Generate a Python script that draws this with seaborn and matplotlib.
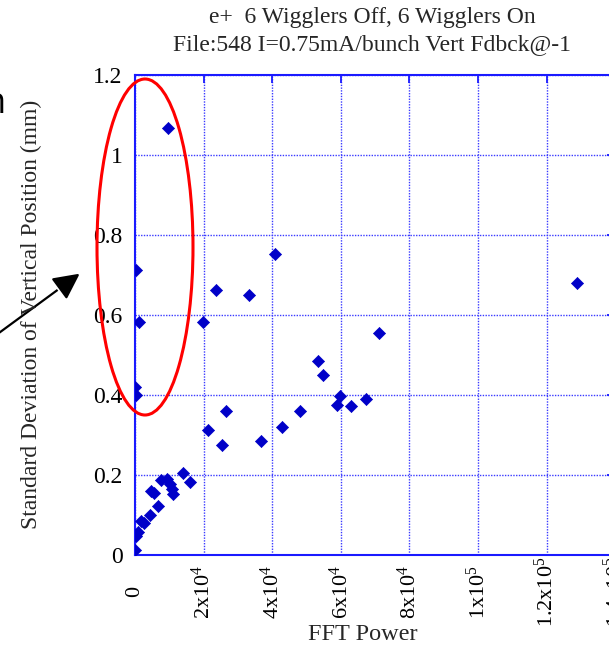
import matplotlib
matplotlib.use("Agg")
import matplotlib.pyplot as plt
import matplotlib.patheffects as pe
from matplotlib.patches import Ellipse, FancyArrowPatch
import seaborn as sns
import pandas as pd

# FFT power vs. vertical-position spread, one point per bunch
fft_power = [0, 400, 900, 1700, 2700, 4300, 6800, 4700, 5600, 7600,
             9300, 10300, 10800, 11200, 14000, 15900,
             0, 300, 1200, 300, 9600,
             19700, 21400, 23600, 25300, 26400, 33300, 36600, 40800,
             43000, 48100, 53300, 54700, 59000, 59800, 62900, 67300,
             71200, 128900]
std_dev = [0.0125, 0.048, 0.058, 0.085, 0.080, 0.100, 0.123, 0.160, 0.155, 0.188,
           0.191, 0.178, 0.165, 0.152, 0.204, 0.182,
           0.421, 0.400, 0.583, 0.713, 1.068,
           0.583, 0.3125, 0.6625, 0.275, 0.360, 0.649, 0.286, 0.7525,
           0.319, 0.360, 0.486, 0.450, 0.375, 0.398, 0.3725, 0.389,
           0.556, 0.679]

x_ticks = [0, 20000, 40000, 60000, 80000, 100000, 120000, 140000]
x_tick_labels = ["0", r"$\mathregular{2x10^4}$", r"$\mathregular{4x10^4}$",
                 r"$\mathregular{6x10^4}$", r"$\mathregular{8x10^4}$",
                 r"$\mathregular{1x10^5}$", r"$\mathregular{1.2x10^5}$",
                 r"$\mathregular{1.4x10^5}$"]
y_ticks = [0, 0.2, 0.4, 0.6, 0.8, 1.0, 1.2]
y_tick_labels = ["0", "0.2", "0.4", "0.6", "0.8", "1", "1.2"]

title_lines = ["e+  6 Wigglers Off, 6 Wigglers On",
               "File:548 I=0.75mA/bunch Vert Fdbck@-1"]

df = pd.DataFrame({"FFT Power": fft_power, "Std": std_dev})

sns.set_style("white")
plt.rcParams["font.family"] = ["Liberation Serif", "DejaVu Serif"]
plt.rcParams["mathtext.fontset"] = "custom"
plt.rcParams["mathtext.rm"] = "Liberation Serif"
plt.rcParams["mathtext.it"] = "Liberation Serif:italic"
plt.rcParams["mathtext.bf"] = "Liberation Serif:bold"

W, H = 609, 647
fig = plt.figure(figsize=(W / 100, H / 100), dpi=100)
fig.patch.set_facecolor("white")

# plot area in pixels: left 135, top 75, bottom 555, right edge at 1.4x10^5
x0, x1, y0, y1 = 135, 615.2, 75, 555
ax = fig.add_axes([x0 / W, 1 - y1 / H, (x1 - x0) / W, (y1 - y0) / H])

frame_blue = "#1a1aff"
ax.grid(True, color="#3a3aff", linestyle=(0, (1, 1)), linewidth=1.0)
ax.set_axisbelow(True)

sns.scatterplot(data=df, x="FFT Power", y="Std", marker="D", s=38,
                color="#0000c8", edgecolor="#0000c8", linewidth=0.5,
                ax=ax, zorder=3, legend=False)

ax.set_xlim(0, 140000)
ax.set_ylim(0, 1.2)
ax.set_xticks(x_ticks)
ax.set_xticklabels(x_tick_labels, rotation=90, va="center", ha="center", fontsize=16)
ax.set_yticks(y_ticks)
ax.set_yticklabels(y_tick_labels, fontsize=17)

for sp in ax.spines.values():
    sp.set_color(frame_blue)
    sp.set_linewidth(1.5)

ax.tick_params(axis="both", direction="in", length=6, width=1.3,
               color=frame_blue, labelcolor="black",
               top=True, right=True)
ax.tick_params(axis="x", pad=26.5)
ax.tick_params(axis="y", pad=9)
ax.set_xlabel("")
ax.set_ylabel("")

# axis labels and two-line title
fig.text(363 / W, 1 - 635 / H, "FFT Power", ha="center", va="center", fontsize=17.5)
fig.text(31 / W, 1 - 314 / H, "Standard Deviation of Vertical Position (mm)",
         ha="center", va="center", rotation=90, fontsize=17)
fig.text(372 / W, 1 - 18 / H, title_lines[0], ha="center", va="center", fontsize=17)
fig.text(372 / W, 1 - 45 / H, title_lines[1], ha="center", va="center", fontsize=17)

# annotation layer in pixel coordinates
ov = fig.add_axes([0, 0, 1, 1], facecolor="none")
ov.set_xlim(0, W)
ov.set_ylim(H, 0)
ov.axis("off")
ov.add_patch(Ellipse((145, 247), 96, 336, fill=False, edgecolor="#ff0000",
                     linewidth=2.2, zorder=5))
arrow = FancyArrowPatch((-12, 341), (82, 272), arrowstyle="-|>,head_length=10,head_width=5",
                        mutation_scale=1.6, color="black", linewidth=1.6, zorder=6)
arrow.set_path_effects([pe.Stroke(linewidth=4, foreground="white"), pe.Normal()])
ov.add_patch(arrow)
ov.text(6, 104, "n", ha="right", va="center", fontsize=26,
        family=["Open Sans", "DejaVu Sans"], color="black")

fig.savefig("out.png", dpi=100, facecolor="white")
